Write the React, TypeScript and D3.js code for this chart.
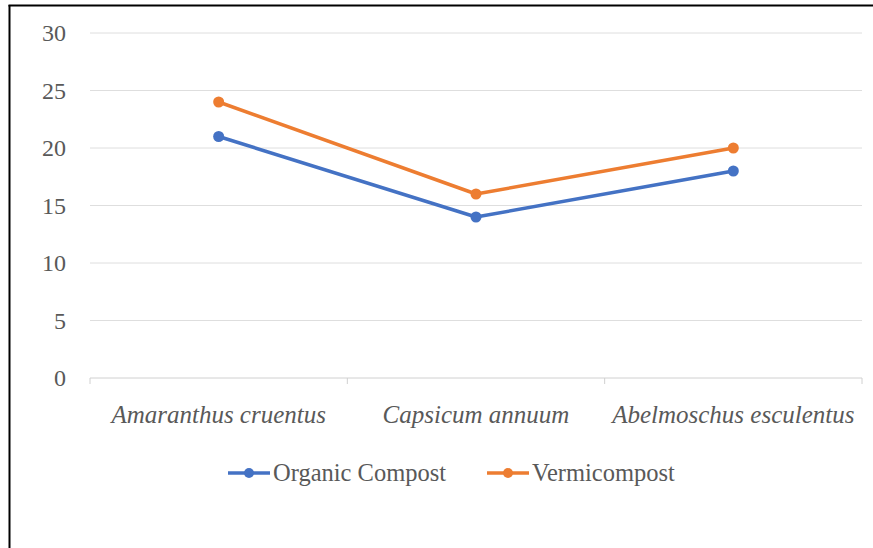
import React from "react";
import * as d3 from "d3";

const categories = ["Amaranthus cruentus", "Capsicum annuum", "Abelmoschus esculentus"];
const organicCompost = [21, 14, 18];
const vermicompost = [24, 16, 20];
const yTicks = [0, 5, 10, 15, 20, 25, 30];
const seriesNames = ["Organic Compost", "Vermicompost"];
const seriesColors = ["#4472C4", "#ED7D31"];

const W = 873;
const H = 548;
const left = 90;
const right = 862;
const top = 33;
const bottom = 378;
const font = "Liberation Serif";

export default function App() {
  const x = d3.scaleBand<string>().domain(categories).range([left, right]).padding(0);
  const y = d3.scaleLinear().domain([0, 30]).range([bottom, top]);
  const cx = (i: number) => (x(categories[i]) as number) + x.bandwidth() / 2;
  const line = d3
    .line<number>()
    .x((_, i) => cx(i))
    .y((d) => y(d));
  const series = [organicCompost, vermicompost];
  const boundaries = [...categories.map((c) => x(c) as number), right];

  return (
    <svg
      width={W}
      height={H}
      style={{ position: "absolute", left: 0, top: 0, background: "#fff" }}
    >
      <rect x={0} y={0} width={W} height={H} fill="#fff" />
      {/* border */}
      <line x1={9.5} y1={5} x2={9.5} y2={H} stroke="#000" strokeWidth={2} />
      <line x1={8.5} y1={5.5} x2={W} y2={5.5} stroke="#000" strokeWidth={2} />
      {/* gridlines */}
      {yTicks.map((t) => (
        <line
          key={t}
          x1={left}
          x2={right}
          y1={y(t)}
          y2={y(t)}
          stroke={t === 0 ? "#d0d0d0" : "#dedede"}
          strokeWidth={1}
        />
      ))}
      {/* x tick marks */}
      {boundaries.map((b, i) => (
        <line key={i} x1={b} x2={b} y1={bottom} y2={bottom + 6} stroke="#d0d0d0" strokeWidth={1} />
      ))}
      {/* y labels */}
      {yTicks.map((t) => (
        <text
          key={t}
          x={66}
          y={y(t)}
          dy="0.34em"
          textAnchor="end"
          fontFamily={font}
          fontSize={24}
          fill="#595959"
        >
          {t}
        </text>
      ))}
      {/* x labels */}
      {categories.map((c, i) => (
        <text
          key={c}
          x={cx(i)}
          y={414}
          dy="0.34em"
          textAnchor="middle"
          fontFamily={font}
          fontStyle="italic"
          fontSize={25}
          fill="#595959"
        >
          {c}
        </text>
      ))}
      {/* lines */}
      {series.map((s, si) => (
        <g key={si}>
          <path d={line(s) || ""} fill="none" stroke={seriesColors[si]} strokeWidth={3.5} strokeLinejoin="round" />
          {s.map((v, i) => (
            <circle key={i} cx={cx(i)} cy={y(v)} r={5.5} fill={seriesColors[si]} />
          ))}
        </g>
      ))}
      {/* legend */}
      {seriesNames.map((n, i) => {
        const lx = i === 0 ? 228 : 487;
        return (
          <g key={n}>
            <line x1={lx} x2={lx + 42} y1={473} y2={473} stroke={seriesColors[i]} strokeWidth={3.5} />
            <circle cx={lx + 21} cy={473} r={5} fill={seriesColors[i]} />
            <text
              x={lx + 45}
              y={473}
              dy="0.34em"
              fontFamily={font}
              fontSize={24.5}
              fill="#595959"
            >
              {n}
            </text>
          </g>
        );
      })}
    </svg>
  );
}
